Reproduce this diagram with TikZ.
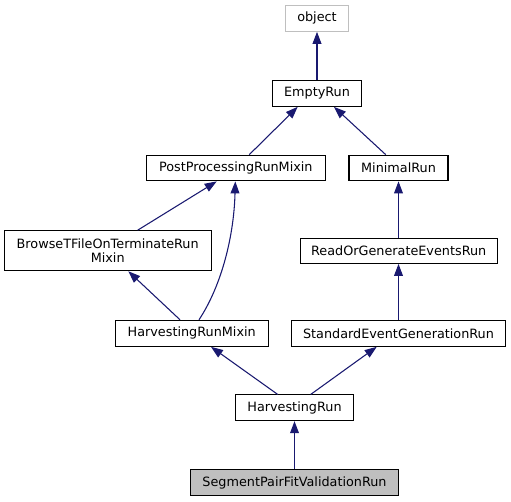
\documentclass[tikz,border=0pt]{standalone}
\usepackage{fontspec}
\setmainfont{DejaVu Sans}
\usetikzlibrary{arrows.meta}
\definecolor{edgeblue}{HTML}{191970}
\definecolor{lightgr}{HTML}{BFBFBF}
\tikzset{
  cls/.style={draw=black, line width=0.8pt, rectangle, inner sep=0pt, font=\fontsize{9.6}{10.8}\selectfont, align=center},
  inh/.style={draw=edgeblue, line width=0.8pt, -{Triangle[length=9pt,width=6.6pt]}},
}
\begin{document}
\begin{tikzpicture}[x=0.75pt,y=-0.75pt]
\useasboundingbox (0,0) rectangle (511,501);
\node[cls, draw=lightgr, minimum width=63*0.75pt, minimum height=26*0.75pt] (obj) at (317,18.3) {object};
\node[cls, minimum width=88.3*0.75pt, minimum height=26*0.75pt] (empty) at (317,93.3) {EmptyRun};
\node[cls, minimum width=179*0.75pt, minimum height=25.7*0.75pt] (ppm) at (235.8,168) {PostProcessingRunMixin};
\node[cls, minimum width=99*0.75pt, minimum height=25.7*0.75pt] (minr) at (398.5,168) {MinimalRun};
\node[cls, minimum width=207.3*0.75pt, minimum height=40*0.75pt] (btf) at (107.7,250.7) {BrowseTFileOnTerminateRun\\Mixin};
\node[cls, minimum width=197.3*0.75pt, minimum height=25.3*0.75pt] (rog) at (398.7,250.7) {ReadOrGenerateEventsRun};
\node[cls, minimum width=152.7*0.75pt, minimum height=26*0.75pt] (hrm) at (191.7,333.3) {HarvestingRunMixin};
\node[cls, minimum width=213.6*0.75pt, minimum height=26*0.75pt] (seg) at (398.5,333.3) {StandardEventGenerationRun};
\node[cls, minimum width=117.6*0.75pt, minimum height=25.7*0.75pt] (hr) at (294.5,407.8) {HarvestingRun};
\node[cls, fill=lightgr, minimum width=208.4*0.75pt, minimum height=25.6*0.75pt] (spf) at (294.5,482.5) {SegmentPairFitValidationRun};

\draw[inh] (empty.north) -- (obj.south);
\draw[inh] (ppm.north -| 249.3,0) -- (empty.south -| 297.7,0);
\draw[inh] (minr.north -| 385.7,0) -- (empty.south -| 334,0);
\draw[inh] (btf.north -| 137.7,0) -- (ppm.south -| 216.7,0);
\draw[inh] (hrm.north -| 199,0) .. controls (222,285) and (234,235) .. (ppm.south -| 235.3,0);
\draw[inh] (hrm.north -| 180,0) -- (btf.south -| 128.3,0);
\draw[inh] (rog.north -| 398.5,0) -- (minr.south -| 398.5,0);
\draw[inh] (seg.north -| 398.5,0) -- (rog.south -| 398.5,0);
\draw[inh] (hr.north -| 277.7,0) -- (hrm.south -| 211,0);
\draw[inh] (hr.north -| 310.7,0) -- (seg.south -| 376.7,0);
\draw[inh] (spf.north) -- (hr.south);
\end{tikzpicture}
\end{document}
